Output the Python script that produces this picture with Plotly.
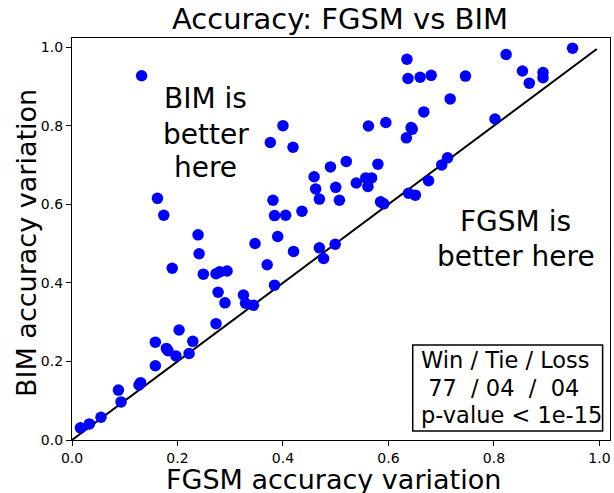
import plotly.graph_objects as go

fgsm = [0.016, 0.033, 0.055, 0.088, 0.093, 0.127, 0.130, 0.132, 0.158, 0.158,
        0.162, 0.174, 0.179, 0.182, 0.190, 0.197, 0.203, 0.222, 0.229, 0.239,
        0.241, 0.249, 0.273, 0.280, 0.294, 0.277, 0.290, 0.273, 0.325, 0.329,
        0.344, 0.347, 0.370, 0.384, 0.390, 0.420, 0.469, 0.477, 0.499, 0.376,
        0.400, 0.419, 0.381, 0.384, 0.405, 0.436, 0.459, 0.462, 0.469, 0.490,
        0.500, 0.507, 0.520, 0.539, 0.557, 0.568, 0.561, 0.562, 0.580, 0.585,
        0.591, 0.595, 0.634, 0.643, 0.645, 0.635, 0.637, 0.660, 0.681, 0.638,
        0.651, 0.667, 0.676, 0.701, 0.712, 0.717, 0.746, 0.802, 0.823, 0.854,
        0.867, 0.893, 0.893, 0.949]
bim = [0.031, 0.041, 0.058, 0.127, 0.097, 0.140, 0.146, 0.927, 0.249, 0.189,
       0.615, 0.572, 0.233, 0.227, 0.437, 0.214, 0.280, 0.220, 0.251, 0.522,
       0.474, 0.422, 0.423, 0.428, 0.430, 0.376, 0.349, 0.296, 0.369, 0.348,
       0.343, 0.500, 0.446, 0.394, 0.518, 0.480, 0.489, 0.462, 0.498, 0.757,
       0.800, 0.745, 0.610, 0.571, 0.572, 0.582, 0.670, 0.639, 0.613, 0.695,
       0.643, 0.610, 0.709, 0.654, 0.667, 0.667, 0.645, 0.799, 0.702, 0.606,
       0.601, 0.808, 0.769, 0.795, 0.791, 0.969, 0.920, 0.923, 0.928, 0.628,
       0.623, 0.835, 0.660, 0.700, 0.718, 0.868, 0.926, 0.817, 0.981, 0.939,
       0.908, 0.935, 0.922, 0.997]
diag = [0.0, 0.995]
tick_vals = [0.0, 0.2, 0.4, 0.6, 0.8, 1.0]
tick_text = ["0.0", "0.2", "0.4", "0.6", "0.8", "1.0"]
bim_text_lines = ["BIM is", "better", "here"]
fgsm_text_lines = ["FGSM is", "better here"]
stats_lines = ["Win / Tie / Loss", " 77  / 04  /  04", "p-value < 1e-15"]

FONT = "DejaVu Sans"
BLACK = "black"

fig = go.Figure()
fig.add_trace(go.Scatter(x=diag, y=diag, mode="lines",
                         line=dict(color=BLACK, width=2), showlegend=False,
                         hoverinfo="skip"))
fig.add_trace(go.Scatter(x=fgsm, y=bim, mode="markers",
                         marker=dict(color="#0000ff", size=11.5, line=dict(width=0)),
                         showlegend=False))

# region labels (one annotation per line to mimic matplotlib line spacing)
for txt, yy in zip(bim_text_lines, [0.868, 0.777, 0.693]):
    fig.add_annotation(x=0.254, y=yy, xref="x", yref="y", text=txt, showarrow=False,
                       xanchor="center", yanchor="middle",
                       font=dict(family=FONT, size=28, color=BLACK))
for txt, yy in zip(fgsm_text_lines, [0.557, 0.467]):
    fig.add_annotation(x=0.841, y=yy, xref="x", yref="y", text=txt, showarrow=False,
                       xanchor="center", yanchor="middle",
                       font=dict(family=FONT, size=28, color=BLACK))

# stats box
fig.add_shape(type="rect", xref="x", yref="y", x0=0.646, x1=1.006, y0=0.023, y1=0.242,
              line=dict(color=BLACK, width=1.5), fillcolor="white", layer="above")
for txt, yy in zip(stats_lines, [0.203, 0.132, 0.063]):
    fig.add_annotation(x=0.657, y=yy, xref="x", yref="y", text=txt, showarrow=False,
                       xanchor="left", yanchor="middle", align="left",
                       font=dict(family=FONT, size=22.5, color=BLACK))

# axis titles
fig.add_annotation(x=(333 - 72) / 538, y=-(479 - 440) / 402, xref="paper", yref="paper",
                   text="FGSM accuracy variation", showarrow=False,
                   xanchor="center", yanchor="middle",
                   font=dict(family=FONT, size=27, color=BLACK))
fig.add_annotation(x=(27 - 72) / 538, y=(440 - 243) / 402, xref="paper", yref="paper",
                   text="BIM accuracy variation", showarrow=False, textangle=-90,
                   xanchor="center", yanchor="middle",
                   font=dict(family=FONT, size=27, color=BLACK))

axis_common = dict(
    showgrid=False, zeroline=False, showline=True, linecolor=BLACK, linewidth=1.2,
    mirror=True, ticks="outside", ticklen=5, tickwidth=1.1, tickcolor=BLACK,
    tickvals=tick_vals, ticktext=tick_text, automargin=False,
    tickfont=dict(family=FONT, size=14, color=BLACK),
)

fig.update_layout(
    width=614, height=493,
    margin=dict(l=72, r=4, t=38, b=53, autoexpand=False),
    paper_bgcolor="white", plot_bgcolor="white",
    title=dict(text="Accuracy: FGSM vs BIM", x=340 / 614, xanchor="center",
               y=1 - 19 / 493, yanchor="middle", yref="container",
               font=dict(family=FONT, size=29, color=BLACK)),
    xaxis=dict(range=[0, 1.02], **axis_common),
    yaxis=dict(range=[0, 1.023], **axis_common),
)

fig.write_html(
    "out.html",
    config={"displayModeBar": False},
    post_script="document.body.style.margin='0';document.body.style.padding='0';"
                "document.documentElement.style.overflow='hidden';",
)
